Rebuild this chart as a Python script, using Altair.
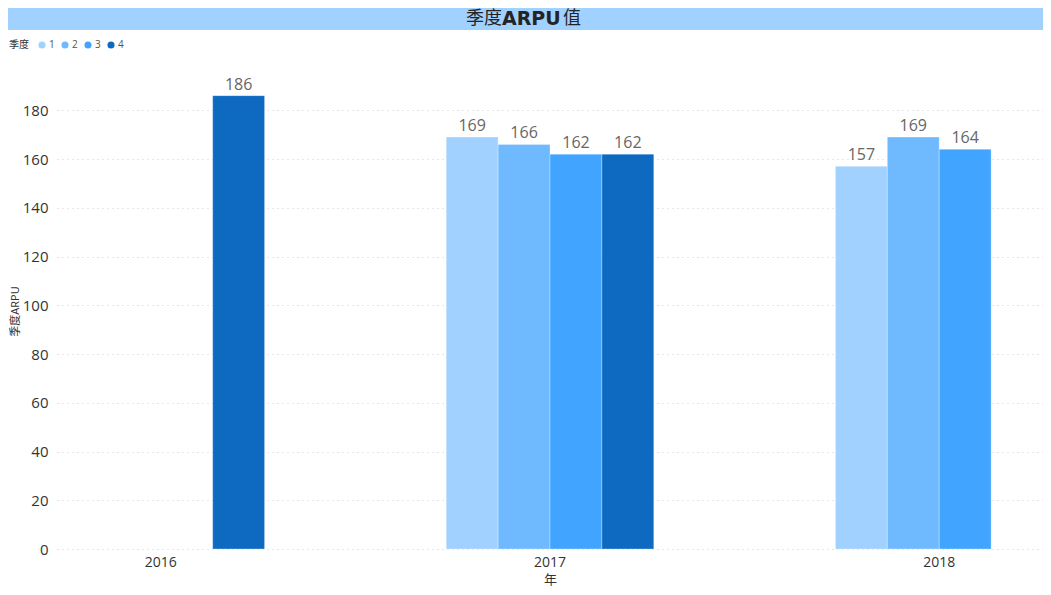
import altair as alt
import pandas as pd

years = ["2016", "2017", "2017", "2017", "2017", "2018", "2018", "2018"]
quarters = ["4", "1", "2", "3", "4", "1", "2", "3"]
arpu = [186, 169, 166, 162, 162, 157, 169, 164]

quarter_domain = ["1", "2", "3", "4"]
quarter_colors = ["#A0D1FF", "#6FBAFF", "#41A5FF", "#0E6AC0"]
year_domain = ["2016", "2017", "2018"]
y_ticks = [0, 20, 40, 60, 80, 100, 120, 140, 160, 180]

df = pd.DataFrame({"年": years, "季度": quarters, "季度ARPU": arpu})

FONT = "Open Sans, Noto Sans CJK SC, sans-serif"
W, H = 986, 468

x_enc = alt.X("年:N", sort=year_domain,
              scale=alt.Scale(domain=year_domain, paddingInner=0.4667, paddingOuter=0),
              axis=alt.Axis(title="年", labelAngle=0, domain=False, ticks=False,
                            labelFontSize=14, labelColor="#333333", labelPadding=6,
                            titleFontSize=13, titleColor="#333333", titleFontWeight="normal",
                            titlePadding=4, labelFont=FONT, titleFont=FONT))
xo_enc = alt.XOffset("季度:N", sort=quarter_domain,
                     scale=alt.Scale(domain=quarter_domain, paddingInner=0, paddingOuter=0))
y_enc = alt.Y("季度ARPU:Q", scale=alt.Scale(domain=[0, 192], nice=False),
              axis=alt.Axis(values=y_ticks, domain=False, ticks=False, grid=True,
                            gridDash=[1, 4], gridColor="#cfcfcf", gridWidth=1,
                            labelFontSize=15, labelColor="#333333", labelPadding=9,
                            labelFont=FONT, title="季度ARPU", titleFont=FONT,
                            titleFontSize=11, titleColor="#333333", titleFontWeight="normal",
                            titleAngle=270, titleX=-42, titleY=230, titleAlign="center",
                            titleBaseline="middle"))

bars = alt.Chart(df).mark_bar(stroke="white", strokeWidth=0.3).encode(
    x=x_enc, xOffset=xo_enc, y=y_enc,
    color=alt.Color("季度:N", sort=quarter_domain,
                    scale=alt.Scale(domain=quarter_domain, range=quarter_colors),
                    legend=alt.Legend(orient="none", legendX=-48, legendY=-41,
                                      direction="horizontal", titleOrient="left",
                                      symbolType="circle", symbolSize=50,
                                      labelFontSize=10, titleFontSize=10,
                                      titleFontWeight="normal", titleColor="#333333",
                                      labelColor="#555555", titlePadding=8,
                                      columnPadding=5, labelOffset=2,
                                      labelFont=FONT, titleFont=FONT,
                                      symbolStrokeWidth=0)),
)

labels = alt.Chart(df).mark_text(baseline="bottom", dy=-3, fontSize=16,
                                 color="#666666", font=FONT).encode(
    x=alt.X("年:N", sort=year_domain), xOffset=alt.XOffset("季度:N", sort=quarter_domain),
    y="季度ARPU:Q", text="季度ARPU:Q")

band = alt.Chart(pd.DataFrame({"a": [0]})).mark_rect(color="#A0D1FF", clip=False).encode(
    x=alt.value(-49), x2=alt.value(W), y=alt.value(-81), y2=alt.value(-51))

t1 = alt.Chart(pd.DataFrame({"t": ["季度"]})).mark_text(
    align="right", baseline="middle", fontSize=18, font=FONT, color="#252423").encode(
    x=alt.value(445), y=alt.value(-62), text="t:N")
t2 = alt.Chart(pd.DataFrame({"t": ["ARPU"]})).mark_text(
    align="left", baseline="middle", fontSize=19, font="DejaVu Sans", fontWeight="bold",
    color="#252423").encode(x=alt.value(445), y=alt.value(-62), text="t:N")
t3 = alt.Chart(pd.DataFrame({"t": ["值"]})).mark_text(
    align="left", baseline="middle", fontSize=18, font=FONT, color="#252423").encode(
    x=alt.value(506), y=alt.value(-62), text="t:N")

chart = alt.layer(band, bars, labels, t1, t2, t3).properties(
    width=W, height=H,
    background="white",
    autosize=alt.AutoSizeParams(type="none"),
    padding={"left": 49, "top": 73, "right": 0, "bottom": 38},
).configure_view(stroke=None)

chart.save("out.html", embed_options={"renderer": "svg", "actions": False})
